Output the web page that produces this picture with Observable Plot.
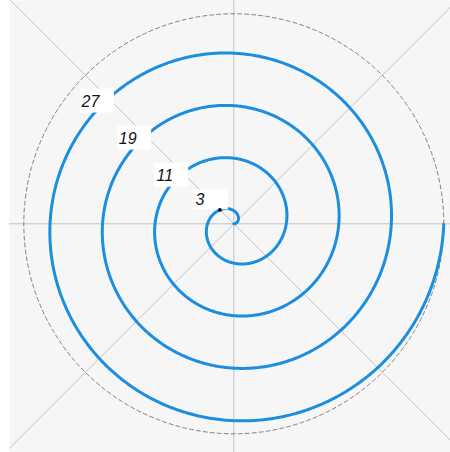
<!DOCTYPE html>
<html>
<head>
<meta charset="utf-8">
<script src="https://cdn.jsdelivr.net/npm/d3@7"></script>
<script src="https://cdn.jsdelivr.net/npm/@observablehq/plot@0.6"></script>
<style>
  html, body { margin: 0; padding: 0; background: #ffffff; }
  #chart { width: 450px; height: 452px; }
</style>
</head>
<body>
<div id="chart"></div>
<script>
// ---- data ----
const labelValues = [3, 11, 19, 27];      // radius labels along the 135° ray
const labelAngleDeg = 135;
const spiralTurns = 4;
const spiralMaxR = 32;                     // r at the end of the spiral
const outerCircleR = 32;                   // dashed outer circle
const gridAnglesDeg = [0, 45, 90, 135];

// ---- derived geometry ----
const spiral = d3.range(0, spiralTurns * 2 * Math.PI + 1e-9, 0.01).map(t => {
  const r = spiralMaxR * t / (spiralTurns * 2 * Math.PI);
  return {x: r * Math.cos(t), y: r * Math.sin(t)};
});
const circle = d3.range(0, 2 * Math.PI + 0.01, 0.01).map(t => ({x: outerCircleR * Math.cos(t), y: outerCircleR * Math.sin(t)}));
const la = labelAngleDeg * Math.PI / 180;
const labels = labelValues.map((v, i) => ({v, i, x: v * Math.cos(la), y: v * Math.sin(la)}));

// ---- layout ----
const W = 450, H = 452, ml = 9;
const cxPx = 233.3, cyPx = 223.3;
const s = 210 / outerCircleR;              // px per unit
const xDomain = [-(cxPx - ml) / s, (W - cxPx) / s];
const yDomain = [-(H - cyPx) / s, cyPx / s];
const L = 80;

// label box / text pixel offsets (screen coords, y down)
const boxC = d => d.i === 0 ? [-9.5, -10] : [-11, 2.5];
const boxS = d => d.i === 0 ? [36, 20] : [34, 24];
const txtC = d => d.i === 0 ? [-20, -10] : [-18, 3];

const chart = Plot.plot({
  width: W, height: H,
  marginLeft: ml, marginRight: 0, marginTop: 0, marginBottom: 0,
  x: {domain: xDomain, axis: null},
  y: {domain: yDomain, axis: null},
  style: {background: "#ffffff"},
  marks: [
    Plot.frame({fill: "#f6f6f6", stroke: "none"}),
    Plot.link(gridAnglesDeg, {
      x1: a => -L * Math.cos(a * Math.PI / 180), y1: a => -L * Math.sin(a * Math.PI / 180),
      x2: a => L * Math.cos(a * Math.PI / 180), y2: a => L * Math.sin(a * Math.PI / 180),
      stroke: "#c2c2c2", strokeWidth: 1, clip: true
    }),
    Plot.line(circle, {x: "x", y: "y", stroke: "#808080", strokeWidth: 1, strokeDasharray: "4,3"}),
    Plot.line(spiral, {x: "x", y: "y", stroke: "#1c8ee0", strokeWidth: 3, curve: "linear"}),
    Plot.rect(labels, {
      x1: d => d.x + (boxC(d)[0] - boxS(d)[0] / 2) / s,
      x2: d => d.x + (boxC(d)[0] + boxS(d)[0] / 2) / s,
      y1: d => d.y - (boxC(d)[1] - boxS(d)[1] / 2) / s,
      y2: d => d.y - (boxC(d)[1] + boxS(d)[1] / 2) / s,
      fill: "#ffffff"
    }),
    Plot.dot(labels.filter(d => d.i === 0), {x: "x", y: "y", r: 1.8, fill: "#000000", stroke: "none"}),
    Plot.text(labels, {
      x: d => d.x + txtC(d)[0] / s,
      y: d => d.y - txtC(d)[1] / s,
      text: d => String(d.v),
      fontFamily: "Liberation Sans, Arial, sans-serif",
      fontStyle: "italic",
      fontSize: 16,
      fill: "#111111"
    })
  ]
});
document.getElementById("chart").appendChild(chart);
</script>
</body>
</html>
